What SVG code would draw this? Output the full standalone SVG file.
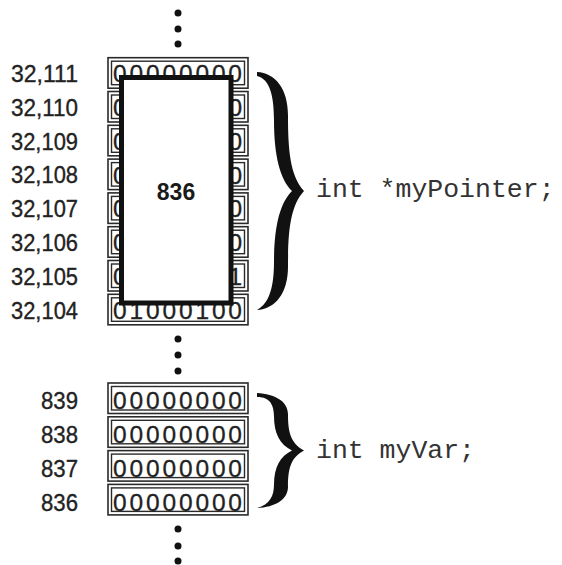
<svg xmlns="http://www.w3.org/2000/svg" width="562" height="565" viewBox="0 0 562 565">
  <style>
    .outer { fill: #ffffff; stroke: #2a2a2a; stroke-width: 1.6; }
    .inner { fill: none; stroke: #2a2a2a; stroke-width: 1.4; }
    .bits { font-family: "Liberation Sans", Arial, sans-serif; font-size: 24.5px; fill: #222222; stroke: #222222; stroke-width: 0.3; }
    .addr { font-family: "Liberation Sans", Arial, sans-serif; font-size: 23.5px; fill: #222222; stroke: #222222; stroke-width: 0.35; text-anchor: end; }
    .code { font-family: "Liberation Mono", "Courier New", monospace; font-size: 26.5px; fill: #333333; }
    .dot { fill: #111111; }
    .brace { fill: #111111; }
    .ptr { fill: #ffffff; stroke: #111111; stroke-width: 5; }
    .val { font-family: "Liberation Sans", Arial, sans-serif; font-size: 23px; font-weight: bold; fill: #1a1a1a; text-anchor: middle; }
  </style>
  <defs>
    <g id="cellframe">
      <rect class="outer" x="108" y="0" width="140" height="30.5"/>
      <rect class="inner" x="111.5" y="3.5" width="133" height="23.5"/>
    </g>
  </defs>

  <g id="dots">
    <circle class="dot" cx="178" cy="13" r="3.5"/>
    <circle class="dot" cx="178" cy="29" r="3.5"/>
    <circle class="dot" cx="178" cy="44" r="3.5"/>
    <circle class="dot" cx="178" cy="339" r="3.5"/>
    <circle class="dot" cx="178" cy="355" r="3.5"/>
    <circle class="dot" cx="178" cy="371" r="3.5"/>
    <circle class="dot" cx="178" cy="529" r="3.5"/>
    <circle class="dot" cx="178" cy="546" r="3.5"/>
    <circle class="dot" cx="178" cy="561" r="3.5"/>
  </g>

  <g id="cell-32111">
    <use href="#cellframe" y="57.7"/>
    <text class="addr" x="78" y="82" textLength="67" lengthAdjust="spacingAndGlyphs">32,111</text>
    <text class="bits" x="113" y="82.2" textLength="129" lengthAdjust="spacing">00000000</text>
  </g>
  <g id="cell-32110">
    <use href="#cellframe" y="91.5"/>
    <text class="addr" x="78" y="115.8" textLength="67" lengthAdjust="spacingAndGlyphs">32,110</text>
    <text class="bits" x="113" y="116">0</text>
    <text class="bits" x="228.5" y="116">0</text>
  </g>
  <g id="cell-32109">
    <use href="#cellframe" y="125.3"/>
    <text class="addr" x="78" y="149.6" textLength="67" lengthAdjust="spacingAndGlyphs">32,109</text>
    <text class="bits" x="113" y="149.8">0</text>
    <text class="bits" x="228.5" y="149.8">0</text>
  </g>
  <g id="cell-32108">
    <use href="#cellframe" y="159.1"/>
    <text class="addr" x="78" y="183.4" textLength="67" lengthAdjust="spacingAndGlyphs">32,108</text>
    <text class="bits" x="113" y="183.6">0</text>
    <text class="bits" x="228.5" y="183.6">0</text>
  </g>
  <g id="cell-32107">
    <use href="#cellframe" y="192.9"/>
    <text class="addr" x="78" y="217.2" textLength="67" lengthAdjust="spacingAndGlyphs">32,107</text>
    <text class="bits" x="113" y="217.4">0</text>
    <text class="bits" x="228.5" y="217.4">0</text>
  </g>
  <g id="cell-32106">
    <use href="#cellframe" y="226.7"/>
    <text class="addr" x="78" y="251" textLength="67" lengthAdjust="spacingAndGlyphs">32,106</text>
    <text class="bits" x="113" y="251.2">0</text>
    <text class="bits" x="228.5" y="251.2">0</text>
  </g>
  <g id="cell-32105">
    <use href="#cellframe" y="260.5"/>
    <text class="addr" x="78" y="284.8" textLength="67" lengthAdjust="spacingAndGlyphs">32,105</text>
    <text class="bits" x="113" y="285">0</text>
    <text class="bits" x="228.5" y="285">1</text>
  </g>
  <g id="cell-32104">
    <use href="#cellframe" y="294.3"/>
    <text class="addr" x="78" y="318.6" textLength="67" lengthAdjust="spacingAndGlyphs">32,104</text>
    <text class="bits" x="113" y="318.8" textLength="129" lengthAdjust="spacing">01000100</text>
  </g>

  <g id="pointer-value">
    <rect class="ptr" x="121.5" y="77.5" width="109.5" height="225.5"/>
    <text class="val" x="176" y="199.5">836</text>
  </g>

  <g id="cell-839">
    <use href="#cellframe" y="383"/>
    <text class="addr" x="78" y="409.3" textLength="37" lengthAdjust="spacingAndGlyphs">839</text>
    <text class="bits" x="113" y="409.3" textLength="129" lengthAdjust="spacing">00000000</text>
  </g>
  <g id="cell-838">
    <use href="#cellframe" y="416.8"/>
    <text class="addr" x="78" y="443.1" textLength="37" lengthAdjust="spacingAndGlyphs">838</text>
    <text class="bits" x="113" y="443.1" textLength="129" lengthAdjust="spacing">00000000</text>
  </g>
  <g id="cell-837">
    <use href="#cellframe" y="450.6"/>
    <text class="addr" x="78" y="476.9" textLength="37" lengthAdjust="spacingAndGlyphs">837</text>
    <text class="bits" x="113" y="476.9" textLength="129" lengthAdjust="spacing">00000000</text>
  </g>
  <g id="cell-836">
    <use href="#cellframe" y="484.4"/>
    <text class="addr" x="78" y="510.7" textLength="37" lengthAdjust="spacingAndGlyphs">836</text>
    <text class="bits" x="113" y="510.7" textLength="129" lengthAdjust="spacing">00000000</text>
  </g>

  <g id="connectors">
    <path class="brace" d="M257 72 C275 73 288 88.3 288 115.5 C288 149.7 290 175.7 304 191 C290 206.3 288 232.3 288 266.5 C288 293.7 275 309 257 310 C270 303.1 274 285.4 274 261.8 C274 226.4 280 202.8 292 191 C280 179.2 274 155.6 274 120.2 C274 96.6 270 78.9 257 76 Z"/>
    <path class="brace" d="M257 393 C275 394 288 401.3 288 414.3 C288 430.7 290 443.2 304 450.5 C290 457.8 288 470.3 288 486.7 C288 499.7 275 507 257 508 C270 504.2 274 495.7 274 484.4 C274 467.5 280 456.2 292 450.5 C280 444.9 274 433.6 274 416.6 C274 405.3 270 396.8 257 397 Z"/>
  </g>

  <g id="label-myPointer">
    <text class="code" x="316" y="197">int *myPointer;</text>
  </g>
  <g id="label-myVar">
    <text class="code" x="316" y="458">int myVar;</text>
  </g>
</svg>
